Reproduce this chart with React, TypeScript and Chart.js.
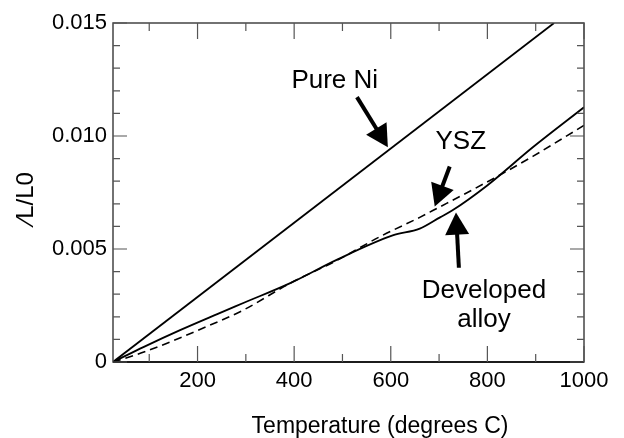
import { useEffect, useRef } from 'react';
import { Chart, registerables } from 'chart.js';

Chart.register(...registerables);

// ---- data ----
const temperatureNi = [25, 938];
const strainNi = [0, 0.015];

const temperatureAlloy = [25, 89, 165, 242, 296, 393, 489, 604, 660, 702, 727, 799, 894, 1000];
const strainAlloy = [0, 0.00067, 0.00142, 0.00213, 0.00262, 0.0035, 0.00453, 0.0056, 0.0059, 0.0064, 0.0067, 0.0078, 0.0095, 0.01127];

const temperatureYSZ = [25, 89, 242, 296, 393, 489, 578, 660, 687, 811, 894, 1000];
const strainYSZ = [0, 0.00044, 0.00178, 0.00231, 0.0035, 0.0045, 0.00555, 0.0064, 0.0067, 0.0081, 0.0091, 0.01047];

const xMajorTicks = [200, 400, 600, 800, 1000];
const xMinorTicks = [100, 300, 500, 700, 900];
const yMajorTicks = [0, 0.005, 0.01, 0.015];
const yMinorTicks = [0.001, 0.002, 0.003, 0.004, 0.006, 0.007, 0.008, 0.009, 0.011, 0.012, 0.013, 0.014];

const xTitle = 'Temperature (degrees C)';
const yTitle = '⁄L/L0';

// annotations (data coordinates)
const annotationTexts = [['Pure Ni'], ['YSZ'], ['Developed', 'alloy']];
const annotationTextAt = [[484, 0.01243], [745, 0.00976], [793, 0.00251]];
const annotationArrowFrom = [[530, 0.01172], [722, 0.00865], [741, 0.00417]];
const annotationArrowTo = [[594, 0.0095], [691, 0.00688], [735, 0.00661]];

const FONT = '"Liberation Sans", Arial, Helvetica, sans-serif';

const toPoints = (xs: number[], ys: number[]) => xs.map((x, i) => ({ x, y: ys[i] }));

const framePlugin = {
  id: 'frameAndNotes',
  afterDatasetsDraw(chart: any) {
    const { ctx, chartArea, scales } = chart;
    const { left, right, top, bottom } = chartArea;
    const xs = scales.x;
    const ys = scales.y;
    ctx.save();

    // frame
    ctx.strokeStyle = '#444';
    ctx.lineWidth = 1.5;
    ctx.strokeRect(left, top, right - left, bottom - top);
    ctx.beginPath();
    ctx.strokeStyle = '#000';
    ctx.moveTo(left, bottom);
    ctx.lineTo(right, bottom);
    ctx.stroke();

    // ticks (inward, on all four sides)
    ctx.strokeStyle = '#555';
    ctx.beginPath();
    const xTick = (v: number, len: number) => {
      const px = xs.getPixelForValue(v);
      ctx.moveTo(px, bottom);
      ctx.lineTo(px, bottom - len);
      ctx.moveTo(px, top);
      ctx.lineTo(px, top + len);
    };
    const yTick = (v: number, len: number) => {
      const py = ys.getPixelForValue(v);
      ctx.moveTo(left, py);
      ctx.lineTo(left + len, py);
      ctx.moveTo(right, py);
      ctx.lineTo(right - len, py);
    };
    xMajorTicks.forEach((v) => xTick(v, 16));
    xMinorTicks.forEach((v) => xTick(v, 8));
    yMajorTicks.forEach((v) => yTick(v, 14));
    yMinorTicks.forEach((v) => yTick(v, 7));
    ctx.lineWidth = 1.2;
    ctx.stroke();

    // annotations
    ctx.fillStyle = '#000';
    ctx.strokeStyle = '#000';
    annotationTexts.forEach((lines, i) => {
      const tx = xs.getPixelForValue(annotationTextAt[i][0]);
      const ty = ys.getPixelForValue(annotationTextAt[i][1]);
      ctx.font = `26px ${FONT}`;
      ctx.textAlign = 'center';
      ctx.textBaseline = 'middle';
      const lh = 29;
      lines.forEach((t, k) => {
        ctx.fillText(t, tx, ty + (k - (lines.length - 1) / 2) * lh);
      });
      const x0 = xs.getPixelForValue(annotationArrowFrom[i][0]);
      const y0 = ys.getPixelForValue(annotationArrowFrom[i][1]);
      const x1 = xs.getPixelForValue(annotationArrowTo[i][0]);
      const y1 = ys.getPixelForValue(annotationArrowTo[i][1]);
      const ang = Math.atan2(y1 - y0, x1 - x0);
      const headLen = 22;
      const headHalf = 12;
      const bx = x1 - headLen * Math.cos(ang);
      const by = y1 - headLen * Math.sin(ang);
      ctx.beginPath();
      ctx.lineWidth = 4;
      ctx.lineCap = 'butt';
      ctx.moveTo(x0, y0);
      ctx.lineTo(bx + Math.cos(ang) * 2, by + Math.sin(ang) * 2);
      ctx.stroke();
      ctx.beginPath();
      ctx.moveTo(x1, y1);
      ctx.lineTo(bx + headHalf * Math.sin(ang), by - headHalf * Math.cos(ang));
      ctx.lineTo(bx - headHalf * Math.sin(ang), by + headHalf * Math.cos(ang));
      ctx.closePath();
      ctx.fill();
    });

    // axis titles
    ctx.font = `23px ${FONT}`;
    ctx.textAlign = 'center';
    ctx.textBaseline = 'middle';
    ctx.fillText(xTitle, left + (right - left) * 0.567, 427);
    ctx.save();
    ctx.translate(26, (top + bottom) / 2 + 5);
    ctx.rotate(-Math.PI / 2);
    ctx.font = `24px ${FONT}`;
    ctx.fillText(yTitle, 0, 0);
    ctx.restore();

    ctx.restore();
  },
};

export default function App() {
  const ref = useRef<HTMLCanvasElement | null>(null);

  useEffect(() => {
    const canvas = ref.current;
    if (!canvas) return;
    const chart = new Chart(canvas, {
      type: 'line',
      data: {
        datasets: [
          {
            label: 'Pure Ni',
            data: toPoints(temperatureNi, strainNi),
            borderColor: '#000',
            borderWidth: 1.8,
            pointRadius: 0,
            fill: false,
            tension: 0,
          },
          {
            label: 'Developed alloy',
            data: toPoints(temperatureAlloy, strainAlloy),
            borderColor: '#000',
            borderWidth: 1.8,
            pointRadius: 0,
            fill: false,
            cubicInterpolationMode: 'monotone',
          },
          {
            label: 'YSZ',
            data: toPoints(temperatureYSZ, strainYSZ),
            borderColor: '#000',
            borderWidth: 1.6,
            borderDash: [8, 5],
            pointRadius: 0,
            fill: false,
            cubicInterpolationMode: 'monotone',
          },
        ],
      },
      options: {
        responsive: false,
        animation: false,
        layout: { padding: { left: 0, top: 23, right: 40, bottom: 0 } },
        plugins: { legend: { display: false }, tooltip: { enabled: false } },
        scales: {
          x: {
            type: 'linear',
            min: 25,
            max: 1000,
            afterBuildTicks: (s: any) => {
              s.ticks = xMajorTicks.map((v) => ({ value: v }));
            },
            afterFit: (s: any) => {
              s.height = 76;
            },
            grid: { display: false, drawTicks: false },
            border: { display: false },
            ticks: {
              color: '#000',
              font: { family: FONT, size: 22 },
              padding: 6,
              maxRotation: 0,
              autoSkip: false,
              callback: (v: any) => String(v),
            },
          },
          y: {
            type: 'linear',
            min: 0,
            max: 0.015,
            afterBuildTicks: (s: any) => {
              s.ticks = yMajorTicks.map((v) => ({ value: v }));
            },
            afterFit: (s: any) => {
              s.width = 113;
            },
            grid: { display: false, drawTicks: false },
            border: { display: false },
            ticks: {
              color: '#000',
              font: { family: FONT, size: 22 },
              padding: 6,
              autoSkip: false,
              callback: (v: any) => (Number(v) === 0 ? '0' : Number(v).toFixed(3)),
            },
          },
        },
      },
      plugins: [framePlugin],
    });
    return () => chart.destroy();
  }, []);

  return (
    <div style={{ position: 'fixed', left: 0, top: 0, width: 624, height: 438, background: '#fff' }}>
      <canvas ref={ref} width={624} height={438} />
    </div>
  );
}
